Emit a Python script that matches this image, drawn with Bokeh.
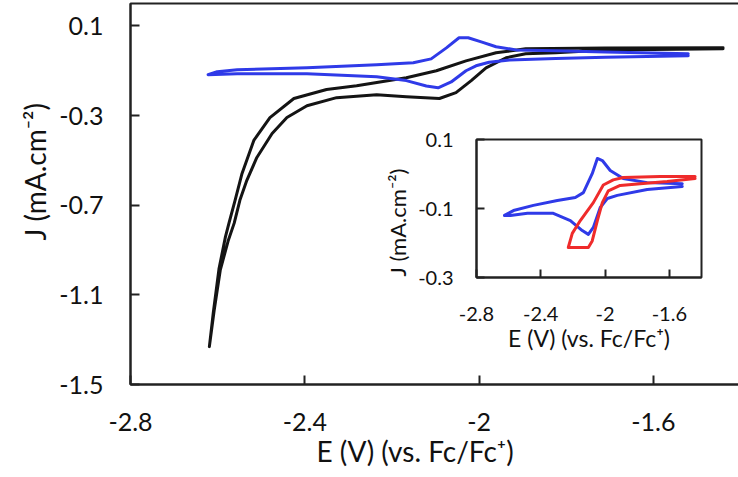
from bokeh.plotting import figure
from bokeh.models import Range1d, FixedTicker, Title
from bokeh.layouts import column
from bokeh.embed import file_html
from bokeh.resources import INLINE

FONT = "Lato"

# ---------------- data (main plot) ----------------
x_ticks = [-2.8, -2.4, -2.0, -1.6]
x_tick_labels = ["-2.8", "-2.4", "-2", "-1.6"]
y_ticks_main = [-1.5, -1.1, -0.7, -0.3, 0.1]
y_tick_labels_main = ["-1.5", "-1.1", "-0.7", "-0.3", "0.1"]
y_ticks_inset = [-0.3, -0.1, 0.1]
y_tick_labels_inset = ["-0.3", "-0.1", "0.1"]

black_E = [-1.440, -1.710, -1.824, -1.893, -1.938, -1.984, -2.018, -2.053, -2.091,
           -2.167, -2.235, -2.327, -2.395, -2.441, -2.475, -2.510, -2.533, -2.549,
           -2.562, -2.576, -2.594, -2.608, -2.619,
           -2.610, -2.597, -2.582, -2.574, -2.560, -2.544, -2.517, -2.480, -2.425,
           -2.350, -2.281, -2.167, -2.098, -2.030, -1.961, -1.893, -1.710, -1.440]
black_J = [-0.002, -0.007, -0.020, -0.024, -0.042, -0.087, -0.144, -0.198, -0.224,
           -0.216, -0.207, -0.220, -0.256, -0.309, -0.380, -0.487, -0.589, -0.678,
           -0.780, -0.860, -0.990, -1.170, -1.331,
           -1.180, -0.985, -0.840, -0.780, -0.678, -0.558, -0.411, -0.309, -0.224,
           -0.184, -0.167, -0.131, -0.100, -0.056, -0.020, -0.002, 0.002, 0.003]

blue_E = [-1.520, -1.710, -1.824, -1.930, -1.977, -2.007, -2.030, -2.064, -2.094,
          -2.121, -2.167, -2.235, -2.395, -2.555, -2.622,
          -2.601, -2.555, -2.395, -2.235, -2.151, -2.110, -2.075, -2.046, -2.025,
          -1.995, -1.961, -1.915, -1.824, -1.710, -1.520]
blue_J = [-0.033, -0.040, -0.045, -0.052, -0.062, -0.078, -0.100, -0.150, -0.176,
          -0.168, -0.144, -0.127, -0.113, -0.113, -0.118,
          -0.104, -0.096, -0.087, -0.073, -0.064, -0.047, 0.002, 0.047, 0.047,
          0.029, 0.007, -0.007, -0.011, -0.016, -0.024]

# ---------------- data (inset) ----------------
inset_blue_E = [-1.520, -1.738, -1.924, -1.986, -2.030, -2.073, -2.104, -2.142, -2.216,
                -2.322, -2.483, -2.589, -2.626,
                -2.570, -2.446, -2.297, -2.185, -2.135, -2.080, -2.048, -2.017, -1.968,
                -1.887, -1.738, -1.520]
inset_blue_J = [-0.036, -0.045, -0.062, -0.071, -0.097, -0.155, -0.175, -0.164, -0.135,
                -0.114, -0.114, -0.120, -0.120,
                -0.106, -0.091, -0.077, -0.068, -0.054, 0.001, 0.045, 0.039, 0.010,
                -0.013, -0.025, -0.028]

inset_red_E = [-1.440, -1.657, -1.887, -1.949, -2.011, -2.073, -2.154, -2.204, -2.229,
               -2.104, -2.080, -2.048, -2.017, -1.980, -1.906, -1.781, -1.614, -1.440]
inset_red_J = [-0.007, -0.007, -0.010, -0.017, -0.032, -0.083, -0.135, -0.172, -0.213,
               -0.213, -0.194, -0.135, -0.083, -0.049, -0.033, -0.028, -0.022, -0.013]

x_label = "E (V) (vs. Fc/Fc\u207a)"
y_label = "J (mA.cm\u207b\u00b2)"

BLACK = "#141414"
BLUE = "#2f3ae8"
RED = "#ef2b2b"
AXIS = "#222222"
TEXT = "#111111"


def style_axes(fig, tick_size, y_ticks, y_labels, tick_len, xstand, ystand):
    fig.xaxis.ticker = FixedTicker(ticks=x_ticks)
    fig.xaxis.major_label_overrides = {t: l for t, l in zip(x_ticks, x_tick_labels)}
    fig.yaxis.ticker = FixedTicker(ticks=y_ticks)
    fig.yaxis.major_label_overrides = {t: l for t, l in zip(y_ticks, y_labels)}
    for ax in (fig.xaxis, fig.yaxis):
        ax.major_tick_in = tick_len
        ax.major_tick_out = 0
        ax.minor_tick_line_color = None
        ax.axis_line_color = AXIS
        ax.axis_line_width = 2
        ax.major_tick_line_color = AXIS
        ax.major_tick_line_width = 2
        ax.major_label_text_font = FONT
        ax.major_label_text_font_size = tick_size
        ax.major_label_text_color = TEXT
        ax.axis_label_text_font = FONT
        ax.axis_label_text_font_style = "normal"
        ax.axis_label_text_color = TEXT
    fig.xaxis.major_label_standoff = xstand
    fig.yaxis.major_label_standoff = ystand
    fig.xgrid.grid_line_color = None
    fig.ygrid.grid_line_color = None
    fig.outline_line_color = AXIS
    fig.outline_line_width = 2
    fig.outline_line_alpha = 1


def style_title(t, size, offset, standoff):
    # axis labels drawn as side titles so they can be shifted along the axis
    t.text_font = FONT
    t.text_font_size = size
    t.text_font_style = "normal"
    t.text_color = TEXT
    t.align = "left"
    t.offset = offset
    t.standoff = standoff


# ---------------- main figure ----------------
p = figure(width=738, height=477, frame_width=610, frame_height=381,
           x_range=Range1d(-2.8, -1.4), y_range=Range1d(-1.5, 0.2),
           output_backend="svg", toolbar_location=None, title_location="left",
           min_border_left=115, min_border_right=13, min_border_top=3, min_border_bottom=93)
p.align = "start"
style_axes(p, "25px", y_ticks_main, y_tick_labels_main, 9, 28, 27)
p.title.text = y_label
style_title(p.title, "28px", 144, 10)

x_title = Title(text=x_label, vertical_align="top")
style_title(x_title, "28px", 186, 0)
p.add_layout(x_title, "below")

p.line(black_E, black_J, line_color=BLACK, line_width=3, line_join="round", line_cap="round")
p.line(blue_E, blue_J, line_color=BLUE, line_width=3, line_join="round", line_cap="round")

# ---------------- inset figure ----------------
q = figure(width=392, height=244, frame_width=225, frame_height=138,
           x_range=Range1d(-2.8, -1.4), y_range=Range1d(-0.3, 0.1),
           output_backend="svg", toolbar_location=None, title_location="left",
           min_border_left=130, min_border_right=37, min_border_top=16, min_border_bottom=90)
q.align = "start"
q.background_fill_color = None
q.border_fill_color = None
style_axes(q, "20px", y_ticks_inset, y_tick_labels_inset, 8, 29, 23)
q.title.text = y_label
style_title(q.title, "22px", 1, 10)
q.xaxis.axis_label = x_label
q.xaxis.axis_label_text_font_size = "23px"
q.xaxis.axis_label_standoff = 0

q.line(inset_blue_E, inset_blue_J, line_color=BLUE, line_width=3, line_join="round", line_cap="round")
q.line(inset_red_E, inset_red_J, line_color=RED, line_width=3, line_join="round", line_cap="round")

q.margin = (-354, 0, 0, 346)

layout = column(p, q, spacing=0)
open("out.html", "w").write(file_html(layout, INLINE))
